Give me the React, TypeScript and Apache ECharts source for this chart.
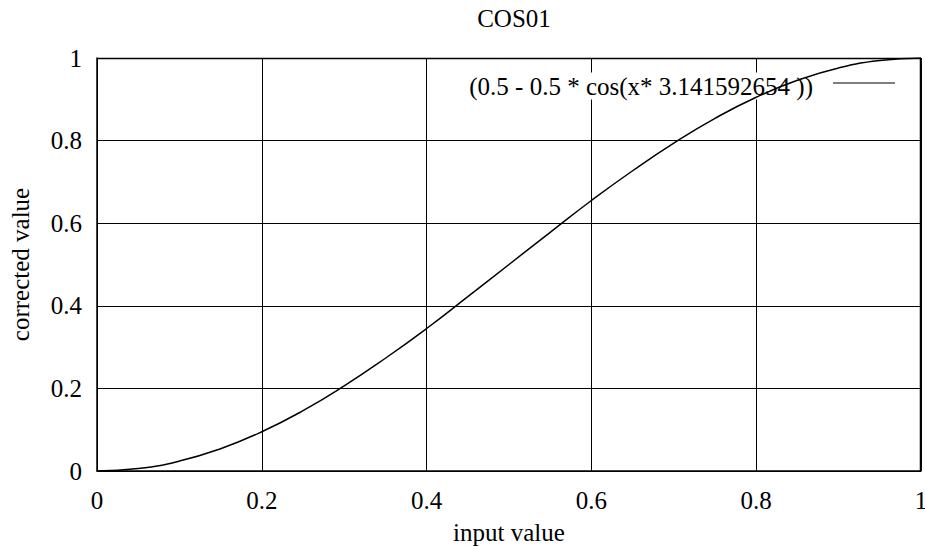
import React, { useEffect, useRef } from "react";
import * as echarts from "echarts";

const titleText = "COS01";
const xAxisName = "input value";
const yAxisName = "corrected value";
const legendLabel = "(0.5 - 0.5 * cos(x* 3.141592654 ))";
const xTicks = [0, 0.2, 0.4, 0.6, 0.8, 1];
const yTicks = [0, 0.2, 0.4, 0.6, 0.8, 1];
const xValues = [0, 0.05, 0.1, 0.15, 0.2, 0.25, 0.3, 0.35, 0.4, 0.45, 0.5, 0.55, 0.6, 0.65, 0.7, 0.75, 0.8, 0.85, 0.9, 0.95, 1];
const yValues = [0, 0.006, 0.024, 0.054, 0.095, 0.146, 0.206, 0.273, 0.345, 0.422, 0.5, 0.578, 0.655, 0.727, 0.794, 0.854, 0.905, 0.946, 0.976, 0.994, 1];

const FONT = "Liberation Serif";
const FS = 25;

export default function App() {
  const ref = useRef<HTMLDivElement>(null);
  useEffect(() => {
    if (!ref.current) return;
    const chart = echarts.init(ref.current, undefined, { renderer: "svg" });
    const data = xValues.map((x, i) => [x, yValues[i]]);
    chart.setOption({
      animation: false,
      backgroundColor: "#ffffff",
      textStyle: { fontFamily: FONT, fontSize: FS },
      title: {
        text: titleText,
        left: 509,
        textAlign: "center",
        top: 1,
        textStyle: { fontFamily: FONT, fontSize: FS, fontWeight: "normal", color: "#000" },
      },
      grid: {
        left: 97,
        right: 4,
        top: 58,
        bottom: 76,
        containLabel: false,
        outerBoundsMode: "none",
      },
      xAxis: {
        type: "value",
        min: 0,
        max: 1,
        interval: 0.2,
        name: xAxisName,
        nameLocation: "middle",
        nameGap: 49,
        nameTextStyle: { fontFamily: FONT, fontSize: FS, color: "#000" },
        axisLine: { show: true, lineStyle: { color: "#000", width: 1.5 } },
        axisTick: { show: false },
        axisLabel: {
          fontFamily: FONT,
          fontSize: FS,
          color: "#000",
          margin: 17,
          formatter: (v: number) => (xTicks.includes(v) ? String(v) : ""),
        },
        splitLine: { show: true, lineStyle: { color: "#000", width: 1 } },
      },
      yAxis: {
        type: "value",
        min: 0,
        max: 1,
        interval: 0.2,
        name: yAxisName,
        nameLocation: "middle",
        nameGap: 64,
        nameRotate: 90,
        nameTextStyle: { fontFamily: FONT, fontSize: FS, color: "#000" },
        axisLine: { show: true, lineStyle: { color: "#000", width: 1.5 } },
        axisTick: { show: false },
        axisLabel: {
          fontFamily: FONT,
          fontSize: FS,
          color: "#000",
          margin: 15,
          formatter: (v: number) => (yTicks.includes(v) ? String(v) : ""),
        },
        splitLine: { show: true, lineStyle: { color: "#000", width: 1 } },
      },
      graphic: [
        {
          type: "line",
          z: 1,
          shape: { x1: 97, y1: 58.5, x2: 921, y2: 58.5 },
          style: { stroke: "#000", lineWidth: 1.5 },
        },
        {
          type: "line",
          z: 1,
          shape: { x1: 920.5, y1: 58, x2: 920.5, y2: 471 },
          style: { stroke: "#000", lineWidth: 1.5 },
        },
        {
          type: "text",
          z: 1,
          x: 815,
          y: 86,
          style: {
            text: legendLabel,
            fontFamily: FONT,
            fontSize: FS,
            fill: "#000",
            align: "right",
            verticalAlign: "middle",
            backgroundColor: "#fff",
            padding: [1, 2, 1, 2],
          },
        },
        {
          type: "line",
          z: 3,
          shape: { x1: 833, y1: 83, x2: 895, y2: 83 },
          style: { stroke: "#000", lineWidth: 1 },
        },
      ],
      series: [
        {
          type: "line",
          data,
          smooth: true,
          showSymbol: false,
          z: 3,
          lineStyle: { color: "#000", width: 1.5 },
        },
      ],
    });
    return () => chart.dispose();
  }, []);
  return (
    <div
      ref={ref}
      style={{ position: "fixed", left: 0, top: 0, width: 925, height: 547, background: "#fff" }}
    />
  );
}
